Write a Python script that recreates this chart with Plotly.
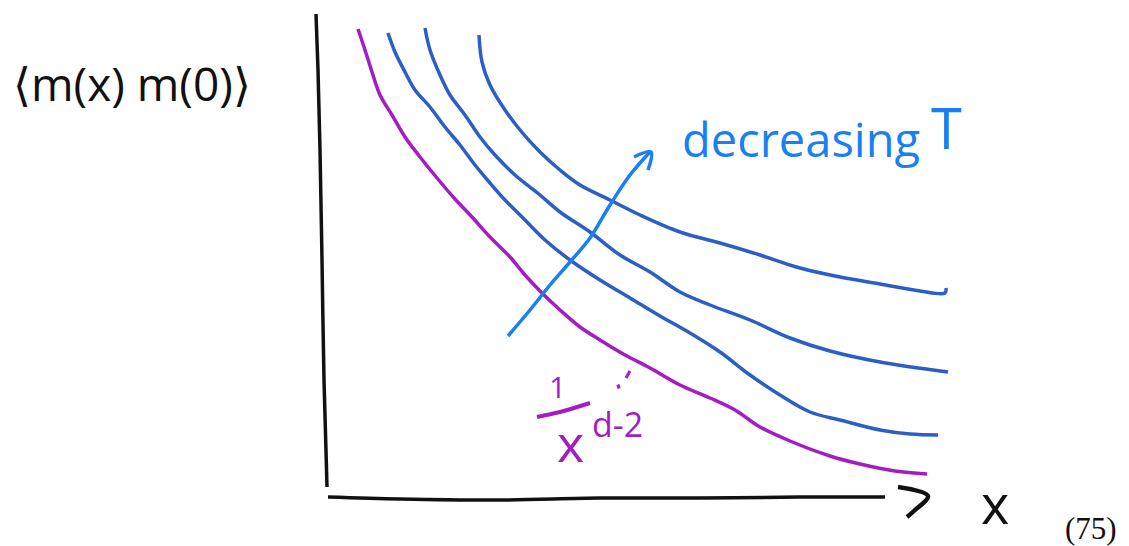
import plotly.graph_objects as go

# Curves (x, y in the sketch's own units, y growing downward)
y_axis_x = [316, 318, 320, 322, 324, 327]
y_axis_y = [14, 70, 150, 260, 380, 487]
x_axis_x = [328, 400, 500, 600, 700, 800, 885]
x_axis_y = [497, 499, 500, 498, 498, 497, 497]
head_x = [898, 928, 915, 907]
head_y = [487, 496, 510, 517]

purple_x = [358, 365, 372, 380, 392, 405, 420, 437, 455, 472, 490, 510, 525, 540, 560, 580, 600, 625, 650, 680, 710, 735, 760, 790, 830, 860, 895, 927]
purple_y = [29, 50, 72, 95, 115, 137, 157, 178, 199, 217, 237, 257, 275, 291, 310, 327, 340, 355, 368, 385, 398, 410, 427, 441, 456, 464, 471, 474]

low_x = [388, 395, 405, 415, 430, 445, 460, 475, 490, 505, 525, 545, 570, 600, 630, 660, 690, 720, 750, 780, 810, 840, 880, 910, 938]
low_y = [33, 52, 72, 90, 107, 127, 145, 165, 183, 200, 220, 240, 260, 280, 298, 316, 333, 352, 375, 395, 412, 420, 430, 434, 435]

mid_x = [425, 430, 440, 450, 465, 480, 495, 515, 540, 560, 590, 620, 650, 680, 710, 750, 790, 830, 880, 948]
mid_y = [28, 50, 75, 95, 115, 137, 155, 175, 195, 212, 232, 255, 272, 292, 305, 320, 338, 351, 362, 372]

high_x = [479, 482, 490, 505, 520, 540, 560, 580, 610, 640, 680, 720, 760, 800, 840, 880, 920, 945, 946]
high_y = [35, 62, 85, 110, 130, 152, 170, 185, 200, 215, 232, 243, 255, 268, 277, 284, 291, 293, 288]

arrow_x = [508, 530, 550, 570, 590, 610, 630, 650]
arrow_y = [336, 310, 285, 262, 238, 205, 175, 152]
arrow_head_x = [634, 651, 648]
arrow_head_y = [157, 152, 170]

bar_x = [537, 560, 590]
bar_y = [417, 412, 403]
tick_x = [630, 626]
tick_y = [371, 378]
dot_x = [617, 620]
dot_y = [387, 386]

BLACK = "#111111"
PURPLE = "#A41DC4"
BLUE = "#2C5EC6"
BRIGHT = "#1A7FF0"

strokes = [
    (y_axis_x, y_axis_y, BLACK, 3.5),
    (x_axis_x, x_axis_y, BLACK, 3.5),
    (head_x, head_y, BLACK, 4.5),
    (purple_x, purple_y, PURPLE, 3.5),
    (low_x, low_y, BLUE, 3.5),
    (mid_x, mid_y, BLUE, 3.5),
    (high_x, high_y, BLUE, 3.5),
    (arrow_x, arrow_y, BRIGHT, 3.5),
    (arrow_head_x, arrow_head_y, BRIGHT, 3.5),
    (bar_x, bar_y, PURPLE, 4),
    (tick_x, tick_y, PURPLE, 3),
    (dot_x, dot_y, PURPLE, 4),
]

fig = go.Figure()
for xs, ys, color, width in strokes:
    fig.add_trace(go.Scatter(x=xs, y=ys, mode="lines", hoverinfo="skip", showlegend=False,
                             line=dict(color=color, width=width, shape="spline", smoothing=1.0)))

labels = [
    ("⟨m(x) m(0)⟩", 132, 83, 46, BLACK, "Open Sans"),
    ("decreasing", 801, 139, 47, BRIGHT, "Open Sans"),
    ("T", 946, 127, 56, BRIGHT, "Open Sans"),
    ("1", 557, 386, 30, PURPLE, "Open Sans"),
    ("x", 570, 441, 52, PURPLE, "Open Sans"),
    ("d-2", 617, 424, 34, PURPLE, "Open Sans"),
    ("x", 995, 503, 54, BLACK, "Open Sans"),
    ("(75)", 1091, 528, 31, BLACK, "Liberation Serif"),
]
for text, x, y, size, color, family in labels:
    fig.add_annotation(x=x, y=y, text=text, showarrow=False, xanchor="center", yanchor="middle",
                       font=dict(size=size, color=color, family=family))

fig.update_layout(
    width=1129, height=546, autosize=False,
    margin=dict(l=0, r=0, t=0, b=0),
    paper_bgcolor="white", plot_bgcolor="white",
    xaxis=dict(range=[0, 1129], visible=False, fixedrange=True),
    yaxis=dict(range=[546, 0], visible=False, fixedrange=True),
)
fig.write_html("out.html", config={"displayModeBar": False},
               post_script="document.body.style.margin='0';document.documentElement.style.overflow='hidden';")
